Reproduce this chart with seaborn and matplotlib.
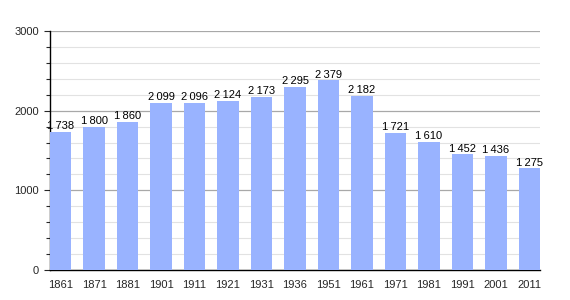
import numpy as np
import pandas as pd
import seaborn as sns
import matplotlib
matplotlib.use("Agg")
import matplotlib.pyplot as plt
from matplotlib.ticker import MultipleLocator

# 인구 데이터 (연도별)
years = ["1861", "1871", "1881", "1901", "1911", "1921", "1931", "1936",
         "1951", "1961", "1971", "1981", "1991", "2001", "2011"]
population = [1738, 1800, 1860, 2099, 2096, 2124, 2173, 2295,
              2379, 2182, 1721, 1610, 1452, 1436, 1275]

df = pd.DataFrame({"year": years, "pop": population})

sns.set_style("white")
plt.rcParams["font.family"] = ["Liberation Sans", "DejaVu Sans"]

fig = plt.figure(figsize=(5.7, 3.0), dpi=100)
ax = fig.add_axes([50 / 570, 30 / 300, 490 / 570, 239 / 300])

bar_w = 0.63
sns.barplot(data=df, x="year", y="pop", color="#99b3ff", saturation=1,
            width=bar_w, linewidth=0, edgecolor="none", ax=ax, zorder=3)

ax.set_xlim(-bar_w / 2, len(years) - 1 + bar_w / 2)
ax.set_ylim(0, 3000)
ax.yaxis.set_major_locator(MultipleLocator(1000))
ax.yaxis.set_minor_locator(MultipleLocator(200))
ax.grid(which="major", axis="y", color="#a8a8a8", linewidth=0.9, zorder=0)
ax.grid(which="minor", axis="y", color="#e2e2e2", linewidth=0.8, zorder=0)
ax.set_axisbelow(True)

for s in ["top", "right"]:
    ax.spines[s].set_visible(False)
for s in ["left", "bottom"]:
    ax.spines[s].set_color("black")
    ax.spines[s].set_linewidth(1.0)

ax.tick_params(axis="y", which="major", left=True, length=4, width=0.8,
               labelsize=8, pad=4)
ax.tick_params(axis="y", which="minor", left=True, length=3, width=0.8)
ax.tick_params(axis="x", bottom=False, labelsize=8, pad=4)
ax.set_xlabel("")
ax.set_ylabel("")

# 막대 위 값 표시
for i, v in enumerate(population):
    label = f"{v // 1000}\u2009{v % 1000:03d}"
    ax.text(i, v + 10, label, ha="center", va="bottom", fontsize=8,
            color="black", zorder=4)

fig.savefig("out.png", dpi=100)
